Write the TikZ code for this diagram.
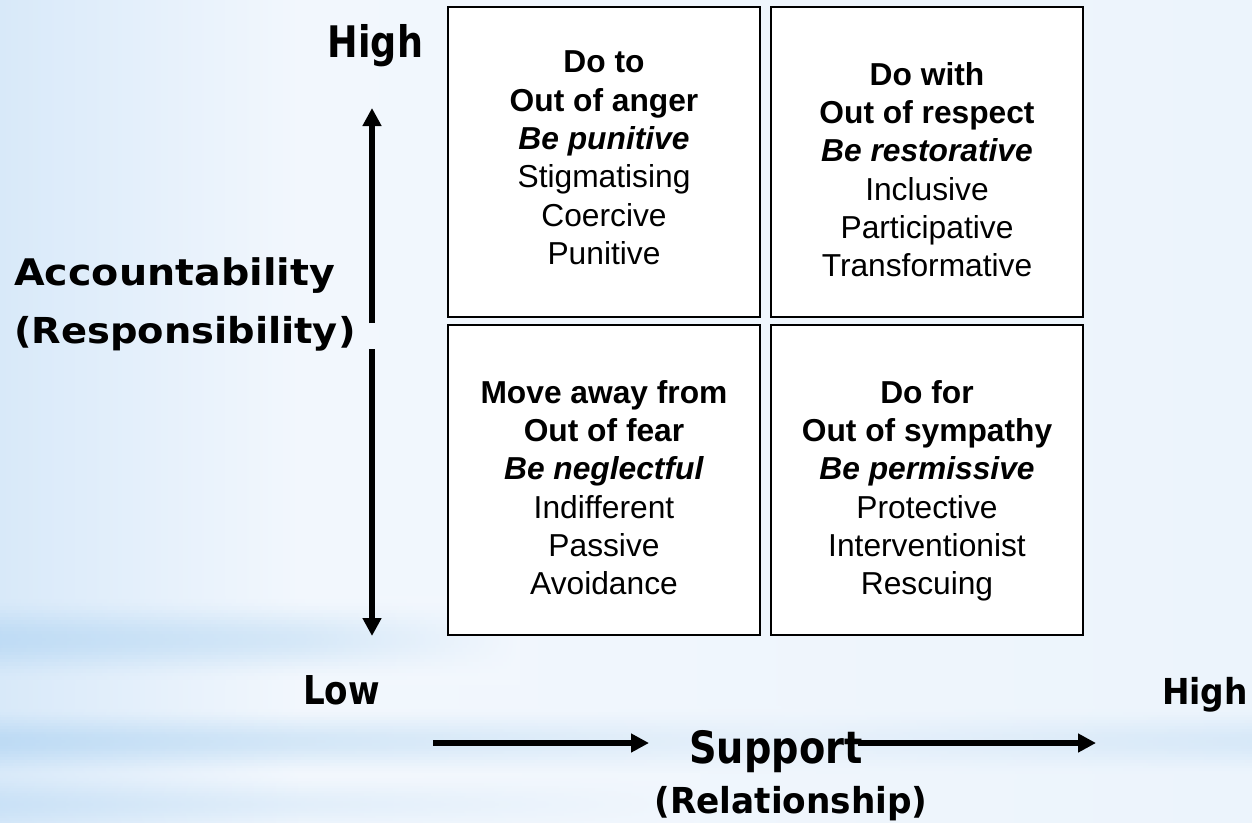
\documentclass[tikz,border=0pt]{standalone}
\usepackage{fontspec}
\setmainfont{Liberation Sans}
\newfontfamily\axisfont{DejaVu Sans}
\usetikzlibrary{arrows.meta}

% slide background tones
\definecolor{bgLeft}{HTML}{D8E9F9}
\definecolor{bgMid}{HTML}{F2F7FD}
\definecolor{bgRight}{HTML}{ECF4FC}
\colorlet{bgAtEight}{bgMid!48!bgRight}
\definecolor{bandLeft}{HTML}{BCDAF4}
\definecolor{bandInner}{HTML}{D2E6F7}
\definecolor{bandMid}{HTML}{E6F0FA}
\definecolor{bandRight}{HTML}{D6E8F8}

% whole-slide horizontal gradient (path box spans 25bp..75bp)
\pgfdeclarehorizontalshading{slidebg}{100bp}{color(0bp)=(bgLeft); color(25bp)=(bgLeft);
  color(36.98bp)=(bgMid); color(75bp)=(bgRight); color(100bp)=(bgRight)}

% axis label text: size, horizontal stretch, text
\newcommand\axislabel[3]{{\axisfont\bfseries\addfontfeature{FakeStretch=#2}\fontsize{#1}{#1}\selectfont #3}}

% soft horizontal streak built from thin strips, each with its own gradient:
% centre y, half height, peak strength, right end x, shading tag, colour stops (using \pc)
\newcommand\streak[6]{%
  \foreach \k in {-12,...,12} {
    \pgfmathtruncatemacro\pc{100*#3*(0.5+0.5*cos(180*\k/12.5))}
    \pgfmathtruncatemacro\idx{\k+13}
    \edef\stops{#6}%
    \edef\declare{\noexpand\pgfdeclarehorizontalshading{#5\idx}{100bp}{\stops}}%
    \declare
    \fill[shading=#5\idx]
      (0,{#1+(\k-0.5)*#2/12}) rectangle (#4,{#1+(\k+0.5)*#2/12+0.8});
  }}

\begin{document}
\begin{tikzpicture}[x=0.75pt, y=-0.75pt,
  quad/.style={draw=black, line width=1.5pt, fill=white,
    minimum width=234pt, minimum height=232.5pt, inner sep=0pt},
  quadtext/.style={anchor=north, align=center, inner sep=0pt,
    font=\fontsize{23.8pt}{28.7pt}\selectfont},
  axisarrow/.style={line width=4.8pt, -{Triangle[length=13.5pt,width=13.5pt]}},
  lbl/.style={inner sep=0pt}]

\useasboundingbox (0,0) rectangle (1252,822);

% background
\fill[shading=slidebg] (0,0) rectangle (1252,822);

% streaks
\streak{640}{42}{0.9}{520}{streakup}{color(0bp)=(bandLeft!\pc!bgLeft); color(25bp)=(bandLeft!\pc!bgLeft);
  color(53.85bp)=(bandInner!\pc!bgMid); color(75bp)=(bgMid); color(100bp)=(bgMid)}
\streak{742}{34}{0.95}{1252}{streakaxis}{color(0bp)=(bandLeft!\pc!bgLeft); color(25bp)=(bandLeft!\pc!bgLeft);
  color(36.98bp)=(bandInner!\pc!bgMid); color(56.95bp)=(bandMid!\pc!bgAtEight);
  color(75bp)=(bandRight!\pc!bgRight); color(100bp)=(bandRight!\pc!bgRight)}
\streak{805}{30}{0.5}{700}{streaklow}{color(0bp)=(bandLeft!\pc!bgLeft); color(25bp)=(bandLeft!\pc!bgLeft);
  color(46.43bp)=(bandInner!\pc!bgMid); color(75bp)=(bgMid!85!bgRight); color(100bp)=(bgMid!85!bgRight)}

% the four quadrants
\node[quad] (tl) at (604,162) {};
\node[quad] (tr) at (927,162) {};
\node[quad] (bl) at (604,480) {};
\node[quad] (br) at (927,480) {};

\node[quadtext] (tlText) at (604,40.7) {\rule{0pt}{24pt}\textbf{Do to}\\ \textbf{Out of anger}\\ \textbf{\textit{Be punitive}}\\ Stigmatising\\ Coercive\\ Punitive};
\node[quadtext] (trText) at (927,53) {\rule{0pt}{24pt}\textbf{Do with}\\ \textbf{Out of respect}\\ \textbf{\textit{Be restorative}}\\ Inclusive\\ Participative\\ Transformative};
\node[quadtext] (blText) at (604,371) {\rule{0pt}{24pt}\textbf{Move away from}\\ \textbf{Out of fear}\\ \textbf{\textit{Be neglectful}}\\ Indifferent\\ Passive\\ Avoidance};
\node[quadtext] (brText) at (927,371) {\rule{0pt}{24pt}\textbf{Do for}\\ \textbf{Out of sympathy}\\ \textbf{\textit{Be permissive}}\\ Protective\\ Interventionist\\ Rescuing};

% axis labels
\node[lbl, anchor=base] (highTop) at (375.5,57) {\axislabel{32.6pt}{0.84}{High}};
\node[lbl, anchor=base west] (acc) at (14,285) {\axislabel{27.5pt}{1.08}{Accountability}};
\node[lbl, anchor=base west] (resp) at (14,343) {\axislabel{26.8pt}{1.075}{(Responsibility)}};
\node[lbl, anchor=base] (low) at (341.5,704) {\axislabel{29.8pt}{0.86}{Low}};
\node[lbl, anchor=base] (highRight) at (1205,704) {\axislabel{26.8pt}{0.92}{High}};
\node[lbl, anchor=base] (support) at (776,763) {\axislabel{33.4pt}{0.86}{Support}};
\node[lbl, anchor=base] (relation) at (791,813) {\axislabel{26.8pt}{0.96}{(Relationship)}};

% axis arrows
\coordinate (accTop) at (372,108);
\coordinate (accGapUp) at (372,323);
\coordinate (accGapDown) at (372,349);
\coordinate (accBottom) at (372,636);
\coordinate (supStart) at (433,743);
\coordinate (supMidTip) at (649,743);
\coordinate (supRestart) at (858,743);
\coordinate (supEnd) at (1096,743);

\draw[axisarrow] (accGapUp) -- (accTop);
\draw[axisarrow] (accGapDown) -- (accBottom);
\draw[axisarrow] (supStart) -- (supMidTip);
\draw[axisarrow] (supRestart) -- (supEnd);
\end{tikzpicture}
\end{document}
